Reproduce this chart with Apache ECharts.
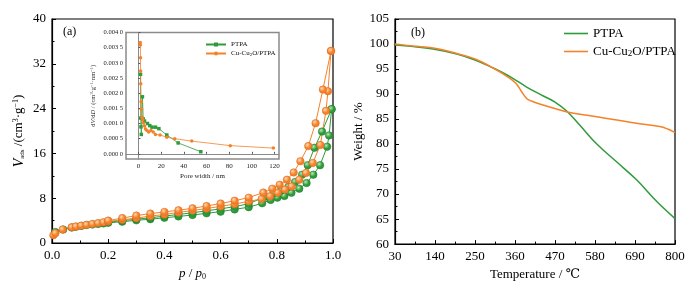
<!DOCTYPE html>
<html><head><meta charset="utf-8">
<script src="https://cdn.jsdelivr.net/npm/echarts@6/dist/echarts.min.js"></script>
<style>html,body{margin:0;padding:0;background:#fff}#c{width:700px;height:286px}</style>
</head><body><div id="c"></div>
<script>
// ---- Panel (a): N2 isotherms, [p/p0, V] ----
const cuAds = [[0.005,1.4],[0.012,1.75],[0.038,2.4],[0.07,2.8],[0.085,2.95],[0.104,3.1],[0.123,3.25],[0.144,3.4],[0.164,3.55],[0.183,3.7],[0.2,3.85],[0.25,4.15],[0.3,4.45],[0.35,4.8],[0.4,5.1],[0.45,5.45],[0.5,5.8],[0.55,6.15],[0.6,6.55],[0.65,6.95],[0.7,7.45],[0.746,7.85],[0.776,8.35],[0.803,8.97],[0.829,9.55],[0.853,10.1],[0.88,11.3],[0.904,12.5],[0.928,14.3],[0.955,17.5],[0.975,23.6],[0.982,27.1],[0.993,34.3]];
const cuDes = [[0.993,34.3],[0.964,27.4],[0.938,21.4],[0.912,17.3],[0.884,14.6],[0.86,12.6],[0.836,11.3],[0.81,10.4],[0.784,9.7],[0.752,9.0],[0.7,8.1],[0.65,7.55],[0.6,7.05],[0.55,6.6],[0.5,6.2],[0.45,5.85],[0.4,5.55],[0.35,5.25],[0.3,4.9],[0.25,4.45],[0.2,4.0]];
const ptAds = [[0.012,1.95],[0.04,2.4],[0.07,2.75],[0.085,2.9],[0.104,3.05],[0.123,3.2],[0.144,3.3],[0.164,3.4],[0.183,3.5],[0.2,3.6],[0.25,3.8],[0.3,4.05],[0.35,4.25],[0.4,4.5],[0.45,4.75],[0.5,5.0],[0.55,5.3],[0.6,5.6],[0.65,6.0],[0.7,6.4],[0.748,7.1],[0.778,7.7],[0.802,8.1],[0.827,8.4],[0.852,8.97],[0.88,9.7],[0.906,10.7],[0.93,12.2],[0.954,13.9],[0.979,17.2],[0.986,19.2],[0.995,23.9]];
const ptDes = [[0.995,23.9],[0.961,19.9],[0.934,17.0],[0.91,13.9],[0.89,12.2],[0.865,10.9],[0.841,10.0],[0.814,9.3],[0.788,8.85],[0.758,8.26],[0.7,7.0],[0.65,6.5],[0.6,6.1],[0.55,5.75],[0.5,5.4],[0.45,5.1],[0.4,4.8],[0.35,4.5],[0.3,4.25],[0.25,4.0],[0.2,3.7]];
const xTicksA = [0, 0.2, 0.4, 0.6, 0.8, 1.0];
const yTicksA = [0, 8, 16, 24, 32, 40];

// ---- Inset: pore size distribution, [pore width nm, dV/dD] ----
const ptPore = [[1.8,0.00262],[2.0,0.00118],[2.2,0.00089],[2.5,0.00064],[3.5,0.00188],[4.2,0.00115],[5.3,0.00108],[8,0.00100],[10,0.00093],[12,0.00088],[15,0.00088],[18,0.00083],[25,0.00062],[35,0.00036],[55,0.00007]];
const cuPore = [[1.6,0.00367],[1.7,0.00359],[1.8,0.00317],[1.9,0.00273],[2.0,0.00231],[2.3,0.00172],[2.6,0.00147],[3.0,0.00121],[3.8,0.00113],[4.5,0.00102],[5.3,0.00092],[6.2,0.00082],[7.5,0.00077],[9,0.00072],[11,0.00077],[13,0.00072],[15,0.00064],[19,0.00062],[25,0.00055],[32,0.00050],[47,0.00042],[81,0.00027],[119,0.00019]];
const insetXTicks = [0, 20, 40, 60, 80, 100, 120];
const insetYTicks = [0, 0.0005, 0.001, 0.0015, 0.002, 0.0025, 0.003, 0.0035, 0.004];

// ---- Panel (b): TGA, [T °C, weight %] ----
const ptTGA = [[30,99.8],[80,99.5],[135,99.0],[200,98.0],[250,96.8],[300,95.2],[328,94.2],[355,93.1],[392,91.4],[438,89.6],[470,88.4],[502,86.6],[539,83.7],[585,80.0],[640,76.4],[695,72.8],[750,68.5],[800,65.1]];
const cuTGA = [[30,100.0],[80,99.6],[135,99.2],[200,98.1],[250,97.0],[300,95.2],[345,93.2],[363,92.1],[377,90.6],[392,89.1],[405,88.6],[437,87.8],[470,87.1],[510,86.3],[580,85.5],[690,84.2],[758,83.5],[780,83.0],[800,82.3]];
const xTicksB = [30, 140, 250, 360, 470, 580, 690, 800];
const yTicksB = [60, 65, 70, 75, 80, 85, 90, 95, 100, 105];

const GREEN = '#2f9b3b', ORANGE = '#f5822a';
const SERIF = '"Liberation Serif","DejaVu Serif","Noto Sans CJK SC",serif';

function sphere(base, hi) {
  return {type:'radial', x:0.38, y:0.35, r:0.7, colorStops:[{offset:0,color:hi},{offset:0.55,color:base},{offset:1,color:base}]};
}
const mainAxisCommon = {
  axisLine:{show:true, lineStyle:{color:'#000', width:1.2}},
  axisTick:{show:true, inside:true, length:4, lineStyle:{color:'#000'}},
  minorTick:{show:true, splitNumber:2, length:2.5, lineStyle:{color:'#000'}},
  splitLine:{show:false},
  axisLabel:{color:'#000', fontFamily:SERIF, fontSize:13}
};
function axisA(extra){ return Object.assign({}, JSON.parse(JSON.stringify(mainAxisCommon)), extra); }

const insetLabel = {color:'#222', fontFamily:SERIF, fontSize:6.5};
const fmtInsetY = v => { const s = v.toFixed(4); return s.slice(0,-1)+' '+s.slice(-1); };

const chart = echarts.init(document.getElementById('c'), null, {renderer:'canvas'});
chart.setOption({
  animation:false,
  backgroundColor:'#fff',
  grid:[
    {left:52, top:19, width:281, height:226, show:true, borderColor:'#000', borderWidth:1.2, backgroundColor:'transparent'},
    {left:126, top:32.5, width:153, height:126.5, show:true, borderColor:'#8a8a8a', borderWidth:1.5, backgroundColor:'#fff', z:5},
    {left:395, top:19, width:280, height:227, show:true, borderColor:'#000', borderWidth:1.2, backgroundColor:'transparent'}
  ],
  xAxis:[
    axisA({gridIndex:0, type:'value', min:0, max:1, interval:0.2,
      axisLabel:{color:'#000', fontFamily:SERIF, fontSize:13, margin:6, formatter:v=>v.toFixed(1)},
      name:'{i|p} / {i|p}{s|0}', nameLocation:'middle', nameGap:24,
      nameTextStyle:{fontFamily:SERIF, fontSize:13, color:'#000', rich:{i:{fontStyle:'italic', fontSize:13, fontFamily:SERIF}, s:{fontSize:8, fontFamily:SERIF, verticalAlign:'bottom', padding:[6,0,0,0]}}}
    }),
    {gridIndex:1, type:'value', min:-11, max:124, z:6,
      axisLine:{show:true, lineStyle:{color:'#8a8a8a', width:1}},
      axisTick:{show:true, inside:true, length:2, customValues:insetXTicks, lineStyle:{color:'#555'}},
      axisLabel:Object.assign({customValues:insetXTicks, margin:4}, insetLabel, {fontSize:7}),
      splitLine:{show:false},
      name:'Pore width / nm', nameLocation:'middle', nameGap:14,
      nameTextStyle:{fontFamily:SERIF, fontSize:7, color:'#222'}
    },
    axisA({gridIndex:2, type:'value', min:30, max:800, interval:110,
      axisLabel:{color:'#000', fontFamily:SERIF, fontSize:13, margin:6},
      name:'Temperature / ℃', nameLocation:'middle', nameGap:22,
      nameTextStyle:{fontFamily:SERIF, fontSize:13, color:'#000'}
    })
  ],
  yAxis:[
    axisA({gridIndex:0, type:'value', min:0, max:40, interval:8,
      axisLabel:{color:'#000', fontFamily:SERIF, fontSize:13, margin:6},
      name:'{i|V}{s|ads} /(cm{p|3}·g{p|−1})', nameLocation:'middle', nameGap:26, nameRotate:90,
      nameTextStyle:{fontFamily:SERIF, fontSize:13, color:'#000', rich:{i:{fontStyle:'italic', fontSize:14, fontFamily:SERIF}, s:{fontSize:7, fontFamily:SERIF, verticalAlign:'bottom', padding:[7,0,0,0]}, p:{fontSize:8, fontFamily:SERIF, verticalAlign:'top', padding:[0,0,6,0]}}}
    }),
    {gridIndex:1, type:'value', min:-0.00017, max:0.004, z:6,
      axisLine:{show:true, lineStyle:{color:'#8a8a8a', width:1}},
      axisTick:{show:true, inside:true, length:2, customValues:insetYTicks, lineStyle:{color:'#555'}},
      axisLabel:Object.assign({customValues:insetYTicks, margin:3, formatter:fmtInsetY}, insetLabel),
      splitLine:{show:false},
      name:'d{i|V}/d{i|D} / (cm{p|3}·g{p|−1}·nm{p|−1})', nameLocation:'middle', nameGap:29, nameRotate:90,
      nameTextStyle:{fontFamily:SERIF, fontSize:6.5, color:'#222', rich:{i:{fontStyle:'italic', fontSize:6.5, fontFamily:SERIF}, p:{fontSize:4.5, fontFamily:SERIF, verticalAlign:'top', padding:[0,0,3,0]}}}
    },
    axisA({gridIndex:2, type:'value', min:60, max:105, interval:5,
      axisLabel:{color:'#000', fontFamily:SERIF, fontSize:13, margin:6},
      name:'Weight / %', nameLocation:'middle', nameGap:30, nameRotate:90,
      nameTextStyle:{fontFamily:SERIF, fontSize:13, color:'#000'}
    })
  ],
  legend:[
    {data:['PTPA','Cu-Cu2O/PTPA'], orient:'vertical', left:200, top:36, itemGap:2, itemWidth:20, itemHeight:5,
      textStyle:{fontFamily:SERIF, fontSize:7, color:'#111', rich:{s:{fontSize:5, verticalAlign:'bottom', padding:[3,0,0,0], fontFamily:SERIF}}},
      formatter:n => n==='PTPA' ? 'PTPA' : 'Cu-Cu{s|2}O/PTPA', z:10},
    {data:[{name:'tgaPT', icon:'rect'},{name:'tgaCu', icon:'rect'}], orient:'vertical', left:559, top:22, itemGap:5, itemWidth:24, itemHeight:1.6,
      textStyle:{fontFamily:SERIF, fontSize:13, color:'#000', lineHeight:13, rich:{s:{fontSize:9, verticalAlign:'bottom', padding:[6,0,0,0], fontFamily:SERIF}}},
      formatter:n => n==='tgaPT' ? 'PTPA' : 'Cu-Cu{s|2}O/PTPA'}
  ],
  graphic:[
    {type:'text', left:63, top:26, style:{text:'(a)', fontFamily:SERIF, fontSize:12, fill:'#000'}},
    {type:'text', left:411, top:27, style:{text:'(b)', fontFamily:SERIF, fontSize:12, fill:'#000'}}
  ],
  series:[
    {name:'ptAds', type:'line', xAxisIndex:0, yAxisIndex:0, data:ptAds, symbol:'circle', symbolSize:7.5,
      lineStyle:{color:GREEN, width:1}, itemStyle:{color:sphere(GREEN,'#b9e8b5'), borderColor:'#1f7a2a', borderWidth:0.5}},
    {name:'ptDes', type:'line', xAxisIndex:0, yAxisIndex:0, data:ptDes, symbol:'circle', symbolSize:7.5,
      lineStyle:{color:GREEN, width:1}, itemStyle:{color:sphere(GREEN,'#b9e8b5'), borderColor:'#1f7a2a', borderWidth:0.5}},
    {name:'cuAds', type:'line', xAxisIndex:0, yAxisIndex:0, data:cuAds, symbol:'circle', symbolSize:7.5,
      lineStyle:{color:ORANGE, width:1}, itemStyle:{color:sphere(ORANGE,'#fcd9b3'), borderColor:'#d8661a', borderWidth:0.5}},
    {name:'cuDes', type:'line', xAxisIndex:0, yAxisIndex:0, data:cuDes, symbol:'circle', symbolSize:7.5,
      lineStyle:{color:ORANGE, width:1}, itemStyle:{color:sphere(ORANGE,'#fcd9b3'), borderColor:'#d8661a', borderWidth:0.5}},
    {name:'PTPA', type:'line', xAxisIndex:1, yAxisIndex:1, data:ptPore, symbol:'rect', symbolSize:3.5, z:7,
      lineStyle:{color:GREEN, width:0.8}, itemStyle:{color:GREEN}},
    {name:'Cu-Cu2O/PTPA', type:'line', xAxisIndex:1, yAxisIndex:1, data:cuPore, symbol:'circle', symbolSize:3.5, z:7,
      lineStyle:{color:ORANGE, width:0.8}, itemStyle:{color:ORANGE}},
    {name:'tgaPT', type:'line', xAxisIndex:2, yAxisIndex:2, data:ptTGA, symbol:'none', smooth:0.4,
      lineStyle:{color:GREEN, width:1.5}, itemStyle:{color:GREEN}},
    {name:'tgaCu', type:'line', xAxisIndex:2, yAxisIndex:2, data:cuTGA, symbol:'none', smooth:0.4,
      lineStyle:{color:ORANGE, width:1.5}, itemStyle:{color:ORANGE}}
  ]
});
</script></body></html>
